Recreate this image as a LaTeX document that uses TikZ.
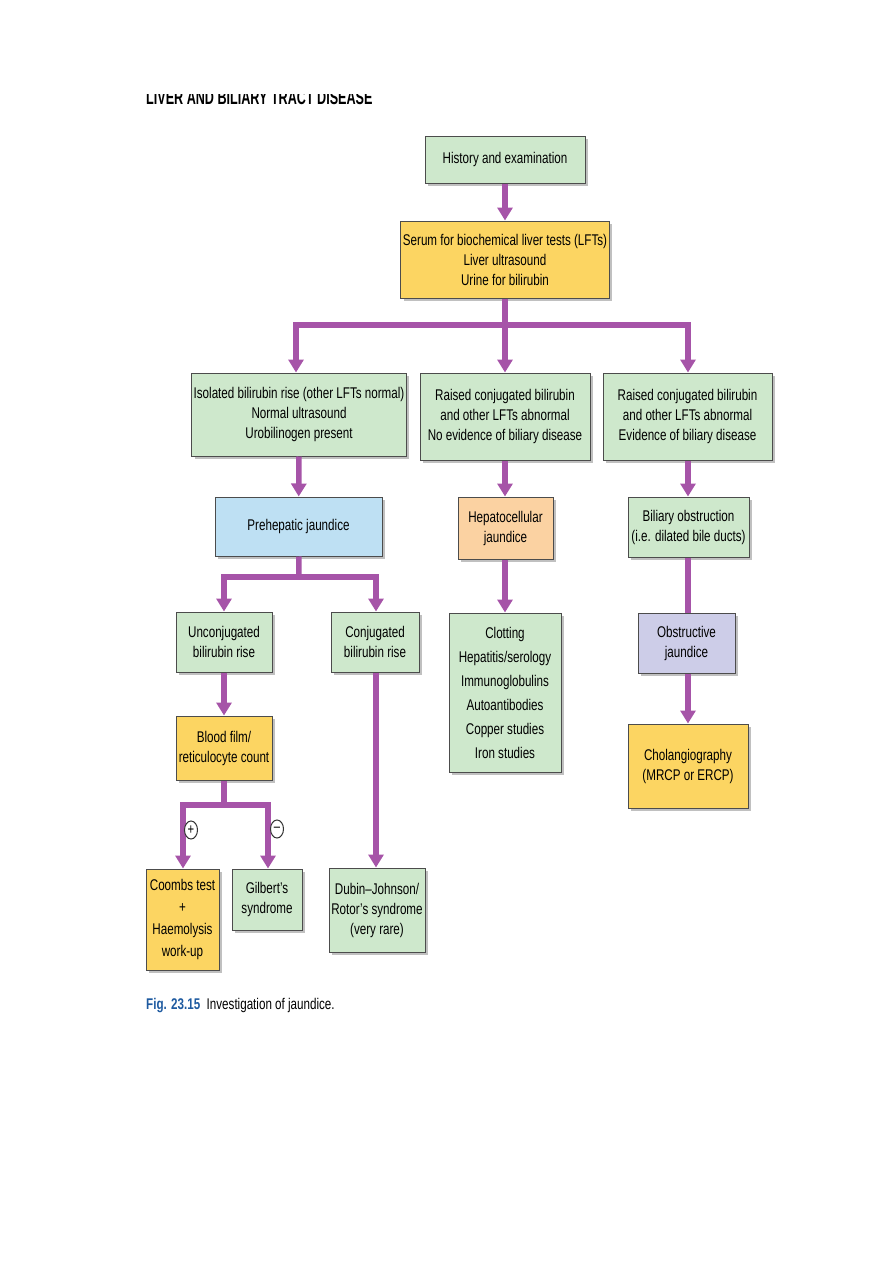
\documentclass[tikz,border=0pt]{standalone}
\usepackage{fontspec}
\setmainfont{Liberation Sans}[FakeStretch=0.75]
\newfontfamily\hdrfont{Liberation Sans}[FakeStretch=0.63]
\usetikzlibrary{arrows.meta,shadows,shapes.geometric}
\definecolor{gfill}{RGB}{206,232,204}
\definecolor{yfill}{RGB}{252,213,98}
\definecolor{bfill}{RGB}{190,224,243}
\definecolor{ofill}{RGB}{251,210,162}
\definecolor{lfill}{RGB}{205,205,232}
\definecolor{arrc}{RGB}{166,84,168}
\definecolor{figblue}{RGB}{30,90,160}
\tikzset{
  box/.style={draw=black!70, line width=1pt, align=center, inner sep=2pt,
    font=\fontsize{15.5}{20}\selectfont,
    drop shadow={shadow xshift=3pt, shadow yshift=-3pt, fill=black!45, opacity=0.55}},
  gbox/.style={box, fill=gfill},
  ybox/.style={box, fill=yfill},
  bbox/.style={box, fill=bfill},
  obox/.style={box, fill=ofill},
  lbox/.style={box, fill=lfill},
  ln/.style={draw=arrc, line width=5.5pt},
  arr/.style={ln, -{Triangle[length=13pt,width=15pt]}},
  sign/.style={ellipse, draw=black!80, line width=1pt, fill=white, minimum width=13pt, minimum height=18pt, inner sep=0pt, font=\fontsize{15}{15}\selectfont}
}
\begin{document}
\begin{tikzpicture}[x=1pt,y=-1pt]
\useasboundingbox (0,0) rectangle (893,1263);
% header (cut off at top)
\begin{scope}
\clip (140,94) rectangle (400,112);
\node[anchor=base west, inner sep=0pt, font=\hdrfont\bfseries\fontsize{20}{20}\selectfont] (hdr) at (146,104) {LIVER AND BILIARY TRACT DISEASE};
\end{scope}

\node[gbox, minimum width=160pt, minimum height=47pt] (hist) at (505,159.5) {History and examination};
\node[ybox, minimum width=204pt, minimum height=77pt] (serum) at (505,259.5) {Serum for biochemical liver tests (LFTs)\\Liver ultrasound\\Urine for bilirubin};
\node[gbox, minimum width=212pt, minimum height=83pt] (iso) at (299,414.5) {Isolated bilirubin rise (other LFTs normal)\\Normal ultrasound\\Urobilinogen present};
\node[gbox, minimum width=170pt, minimum height=87pt] (nobil) at (505,416.5) {Raised conjugated bilirubin\\and other LFTs abnormal\\No evidence of biliary disease};
\node[gbox, minimum width=169pt, minimum height=87pt] (evbil) at (687.5,416.5) {Raised conjugated bilirubin\\and other LFTs abnormal\\Evidence of biliary disease};
\node[bbox, minimum width=167pt, minimum height=59pt] (pre) at (298.5,526.5) {Prehepatic jaundice};
\node[obox, minimum width=95pt, minimum height=62pt] (hep) at (505.5,528) {Hepatocellular\\jaundice};
\node[gbox, minimum width=121pt, minimum height=60pt] (bilob) at (688.5,527) {Biliary obstruction\\(i.e. dilated bile ducts)};
\node[gbox, minimum width=96pt, minimum height=60pt] (uncon) at (224,642) {Unconjugated\\bilirubin rise};
\node[gbox, minimum width=88pt, minimum height=60pt] (conj) at (375,642) {Conjugated\\bilirubin rise};
\node[gbox, minimum width=112pt, minimum height=159pt, font=\fontsize{15.5}{24}\selectfont] (clot) at (505,692.5) {Clotting\\Hepatitis/serology\\Immunoglobulins\\Autoantibodies\\Copper studies\\Iron studies};
\node[lbox, minimum width=97pt, minimum height=60pt] (obs) at (686.5,643) {Obstructive\\jaundice};
\node[ybox, minimum width=120pt, minimum height=84pt] (chol) at (688,766) {Cholangiography\\(MRCP or ERCP)};
\node[ybox, minimum width=96pt, minimum height=64pt] (blood) at (224,748) {Blood film/\\reticulocyte count};
\node[ybox, minimum width=73pt, minimum height=101pt, font=\fontsize{15.5}{22}\selectfont] (coombs) at (182.5,919.5) {Coombs test\\+\\Haemolysis\\work-up};
\node[gbox, minimum width=70pt, minimum height=61pt] (gil) at (267,899.5) {Gilbert's\\syndrome};
\node[gbox, minimum width=96pt, minimum height=84pt] (dubin) at (377,910) {Dubin--Johnson/\\Rotor's syndrome\\(very rare)};

% connectors
\draw[arr] (hist) -- (serum);
\coordinate (b1) at (505,325);
\draw[ln] (serum) -- (b1);
\draw[arr] (b1) -| (iso.north -| 296,0);
\draw[arr] (b1) -- (nobil);
\draw[arr] (b1) -| (evbil.north -| 688,0);
\draw[arr] (iso.south -| 299,0) -- (pre);
\draw[arr] (nobil) -- (hep.north -| nobil);
\draw[arr] (evbil.south -| 688,0) -- (bilob.north -| 688,0);
\coordinate (b2) at (299,577);
\draw[ln] (pre) -- (b2);
\draw[arr] (b2) -| (uncon);
\draw[arr] (b2) -| (conj.north -| 376,0);
\draw[arr] (hep.south -| 505,0) -- (clot);
\draw[ln] (bilob.south -| 688,0) -- (obs.north -| 688,0);
\draw[arr] (obs.south -| 688,0) -- (chol);
\draw[arr] (uncon) -- (blood);
\coordinate (b3) at (224,805);
\draw[ln] (blood) -- (b3);
\draw[arr] (b3) -| (coombs.north -| 183,0);
\draw[arr] (b3) -| (gil.north -| 268,0);
\draw[arr] (conj.south -| 376,0) -- (dubin.north -| 376,0);

\node[sign] (plus) at (191,830) {+};
\node[sign] (minus) at (277,829) {--};

% caption
\node[anchor=base west, inner sep=0pt, font=\fontsize{15.5}{18}\selectfont] (cap) at (146,1009) {\textcolor{figblue}{\bfseries Fig. 23.15}\ \ Investigation of jaundice.};
\end{tikzpicture}
\end{document}
